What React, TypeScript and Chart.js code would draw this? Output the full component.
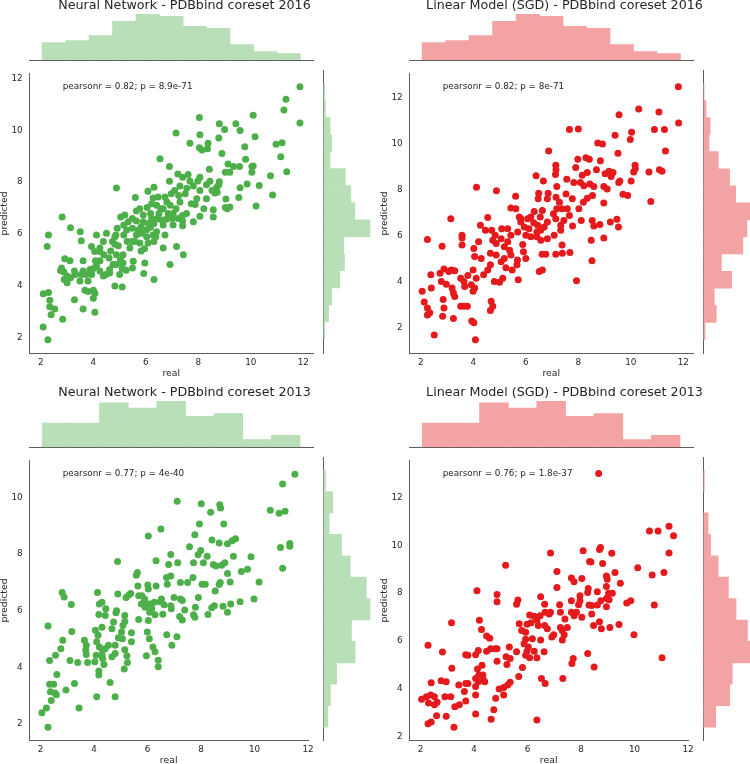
import React, { useEffect, useRef } from 'react';
import { Chart, registerables } from 'chart.js';

Chart.register(...registerables);

// ---------------- data ----------------
const xTicksAll = [2, 4, 6, 8, 10, 12];
const yTicks12 = [2, 4, 6, 8, 10, 12];
const yTicks10 = [2, 4, 6, 8, 10];

// marginal histogram of "real" values (shared by both models of a year)
const real2016Counts = [18, 20, 25, 39, 46, 44, 34, 32, 16, 9, 7];
const real2016BinStart = 2.05;
const real2016BinWidth = 0.8945;
const real2013Counts = [18, 18, 33, 29, 34, 23, 25, 6, 9];
const real2013BinStart = 2.06;
const real2013BinWidth = 1.05;

// marginal histograms of "predicted" values (ascending bins)
const nn2016PredCounts = [2, 7, 11, 21, 27, 26, 59, 40, 35, 28, 9, 11, 9, 3, 2];
const nn2016PredBinStart = 1.94;
const nn2016PredBinWidth = 0.649;
const lin2016PredCounts = [2, 13, 11, 28, 18, 39, 43, 46, 32, 26, 15, 6, 7, 3, 1];
const lin2016PredBinStart = 1.48;
const lin2016PredBinWidth = 0.732;
const nn2013PredCounts = [4, 6, 11, 26, 23, 38, 35, 22, 15, 5, 8, 2];
const nn2013PredBinStart = 1.88;
const nn2013PredBinWidth = 0.747;
const lin2013PredCounts = [10, 21, 23, 37, 35, 26, 20, 12, 6, 4, 0, 1];
const lin2013PredBinStart = 2.4;
const lin2013PredBinWidth = 0.882;

// scatter points [real, predicted]
const nn2016Points: number[][] = [
  [11.87,11.68],[11.34,11.2],[11.26,10.79],[11.87,10.28],[10.09,10.58],[8.04,10.5],[7.15,9.9],[8.06,9.83],[8.8,10.26],[9.0,10.03],
  [9.43,10.26],[9.59,10.0],[10.16,9.75],[8.78,9.71],[7.68,9.5],[8.04,9.33],[8.14,9.24],[8.37,9.5],[8.35,9.29],[8.9,9.11],
  [9.77,9.37],[10.96,9.46],[11.19,9.52],[11.14,8.98],[11.37,8.4],[10.75,8.25],[10.83,7.51],[10.2,7.08],[9.8,8.89],[9.13,8.7],
  [9.34,8.61],[9.57,8.61],[10.04,8.61],[10.04,8.38],[9.2,8.38],[9.03,8.38],[8.42,8.5],[6.54,8.91],[6.9,8.61],[7.61,8.3],
  [8.06,8.19],[7.98,8.05],[8.44,8.04],[8.31,7.9],[8.8,8.02],[8.7,7.81],[8.78,7.9],[8.63,7.58],[8.31,7.36],[7.81,7.85],
  [7.68,8.05],[7.4,8.19],[7.22,8.32],[6.9,8.04],[7.3,7.85],[7.56,7.77],[8.06,7.68],[8.52,7.68],[8.72,7.61],[7.73,7.17],
  [7.88,7.14],[8.21,6.98],[8.57,6.94],[9.1,6.98],[9.2,7.04],[9.54,7.41],[9.59,7.79],[10.09,8.63],[9.86,7.93],[10.32,7.87],
  [9.05,7.35],[9.03,7.02],[8.57,6.66],[8.06,6.69],[7.81,6.47],[7.4,6.72],[7.4,6.5],[7.4,6.32],[7.0,6.6],[7.15,6.98],
  [7.3,7.24],[7.25,7.49],[7.1,7.68],[6.97,7.55],[6.73,7.43],[6.47,7.43],[6.28,7.39],[6.31,7.81],[6.08,7.65],[5.6,7.41],
  [4.88,7.78],[6.57,6.98],[6.5,6.79],[6.18,6.79],[5.77,6.98],[5.64,6.89],[6.05,7.02],[6.8,7.24],[6.93,7.11],[6.66,6.35],
  [6.78,6.57],[6.85,6.79],[6.44,6.6],[6.31,6.41],[6.18,6.26],[6.03,6.16],[5.9,6.47],[5.82,6.28],[5.64,6.5],[5.49,6.6],
  [5.33,6.47],[5.16,6.35],[5.04,6.66],[5.2,6.73],[5.49,6.22],[5.64,5.96],[5.84,6.03],[6.03,5.9],[6.28,5.96],[6.41,6.09],
  [6.73,5.96],[6.31,5.71],[6.09,5.65],[6.66,5.46],[7.17,5.52],[7.43,5.2],[6.92,4.82],[6.38,5.9],[5.95,5.43],[5.82,5.35],
  [5.96,4.88],[5.92,4.48],[6.31,4.25],[5.52,4.95],[5.49,4.69],[5.46,5.71],[5.29,5.71],[5.16,5.96],[4.86,5.96],[4.82,5.61],
  [4.95,5.55],[4.73,5.71],[4.66,5.35],[4.88,5.2],[5.13,5.2],[5.03,5.01],[5.13,4.88],[5.1,4.67],[5.25,4.6],[5.0,4.44],
  [4.88,4.82],[4.75,4.82],[4.62,4.63],[4.62,4.5],[4.5,6.03],[4.38,5.71],[4.25,5.46],[4.4,5.2],[4.6,5.08],[4.25,4.97],
  [4.12,4.79],[4.0,4.67],[4.08,4.97],[3.87,4.63],[3.72,4.44],[3.94,4.44],[3.61,4.57],[4.25,4.57],[4.38,4.38],[4.48,4.44],
  [4.12,5.96],[3.93,5.52],[4.25,5.33],[4.82,4.0],[5.1,3.96],[4.05,5.33],[3.8,4.19],[3.49,4.19],[3.54,4.44],[3.31,4.44],
  [3.28,4.57],[3.13,4.31],[3.0,4.38],[2.89,4.25],[3.11,4.97],[2.91,5.05],[2.79,4.69],[2.75,4.59],[2.88,4.54],[3.0,4.12],
  [3.61,4.97],[3.68,3.83],[3.8,3.78],[4.0,3.83],[4.06,3.72],[4.0,3.52],[3.61,3.11],[4.06,2.98],[3.28,3.46],[2.81,6.66],
  [3.13,6.24],[3.5,6.09],[3.54,5.74],[2.29,5.96],[2.24,5.52],[2.09,3.7],[2.29,3.74],[2.34,3.45],[2.39,2.89],[2.34,3.19],
  [2.53,3.11],[2.09,2.41],[2.27,1.92],[2.83,2.71],[5.9,6.73],[6.22,6.6],[6.6,6.54],[7.04,6.79],[7.04,6.35],[7.23,6.6],
  [7.55,6.79],[6.41,7.11],[6.22,7.17],[6.66,6.98],[5.27,6.16],[5.71,6.16],[6.09,6.41],[5.58,5.71],[4.91,6.22],[4.82,5.9],
  [5.39,5.46],[5.77,5.65],[7.94,7.36],[7.5,7.55]
];

const lin2016Points: number[][] = [
  [11.81,12.47],[11.82,10.9],[10.3,11.5],[9.55,11.25],[11.07,11.37],[10.9,10.61],[11.28,10.61],[11.32,9.68],[7.66,10.61],[8.0,10.64],
  [9.4,10.36],[10.03,10.49],[9.98,10.18],[8.74,10.03],[8.92,9.98],[6.87,9.68],[9.51,9.58],[8.29,9.39],[7.98,9.32],[8.42,9.32],
  [8.84,9.25],[9.32,8.74],[9.17,8.8],[9.02,8.69],[9.25,8.57],[10.16,9.06],[10.17,8.92],[10.11,8.77],[10.69,8.77],[11.09,8.86],
  [11.19,8.8],[10.76,7.48],[9.88,7.74],[9.7,7.8],[9.54,8.31],[10.01,8.38],[9.58,8.38],[8.69,8.86],[8.34,8.74],[8.15,8.63],
  [7.9,8.96],[7.14,9.06],[7.15,8.86],[7.13,8.66],[6.39,8.6],[6.67,8.38],[7.56,8.45],[7.83,8.31],[8.08,8.31],[8.21,8.17],
  [8.44,8.24],[8.59,8.14],[8.97,8.14],[9.1,8.03],[8.97,7.42],[8.54,7.74],[8.34,7.62],[8.19,7.45],[8.02,7.17],[7.77,7.6],
  [7.53,7.81],[7.18,8.14],[6.85,7.84],[6.82,7.6],[6.49,7.84],[6.47,7.6],[7.15,7.67],[7.28,7.45],[7.38,7.17],[7.18,7.17],
  [7.05,6.95],[7.58,7.17],[7.66,6.88],[7.45,6.66],[7.33,6.45],[7.14,6.73],[6.63,7.09],[6.32,7.05],[6.19,6.81],[6.07,6.73],
  [6.55,6.81],[6.82,6.59],[6.7,6.38],[6.45,6.45],[6.3,6.56],[6.12,6.3],[5.94,6.38],[5.81,6.59],[5.75,6.81],[5.62,7.17],
  [5.43,7.2],[5.61,7.71],[4.88,7.95],[4.12,8.1],[6.0,6.02],[6.19,5.95],[6.42,5.95],[6.57,5.8],[6.82,5.87],[7.08,6.02],
  [7.33,6.23],[7.78,6.42],[8.11,6.66],[8.53,6.66],[8.59,6.42],[8.82,6.48],[9.22,6.59],[9.47,6.71],[9.53,6.38],[8.97,5.9],
  [8.49,5.8],[8.52,4.91],[7.93,4.04],[7.68,5.27],[7.39,5.23],[7.14,5.19],[6.76,5.19],[6.62,5.19],[5.91,5.3],[5.88,5.62],
  [7.38,5.59],[6.63,4.51],[6.51,4.44],[5.69,6.16],[5.43,6.02],[5.31,6.3],[5.08,6.3],[4.83,6.02],[4.7,6.23],[5.06,5.87],
  [5.31,5.73],[5.18,5.52],[4.87,5.66],[4.74,5.8],[4.65,5.23],[4.87,5.16],[5.06,4.87],[5.18,5.01],[5.43,5.16],[5.68,4.94],
  [5.66,4.73],[5.48,4.51],[5.24,4.61],[5.12,4.15],[5.0,3.98],[4.55,4.51],[4.39,4.3],[4.11,4.15],[3.99,4.51],[4.3,5.01],
  [4.2,5.73],[4.27,6.45],[4.46,6.23],[4.55,6.79],[4.05,5.09],[4.02,5.44],[3.57,6.02],[3.57,5.59],[3.57,5.9],[3.14,6.73],
  [2.81,5.54],[2.25,5.83],[3.16,4.51],[2.88,4.55],[3.06,4.44],[3.29,4.47],[2.73,4.37],[2.38,4.3],[2.4,3.72],[2.78,4.01],
  [2.97,3.89],[3.19,3.72],[3.24,3.51],[3.29,3.36],[3.52,4.15],[3.64,4.01],[3.79,4.27],[3.67,3.79],[3.92,3.87],[3.99,3.58],
  [4.05,3.72],[3.52,2.93],[3.64,2.93],[3.77,2.93],[3.94,2.29],[4.02,2.22],[4.08,1.48],[3.24,2.4],[2.83,2.5],[2.88,2.86],
  [2.85,3.22],[2.05,3.58],[2.13,3.12],[2.25,2.86],[2.25,2.55],[2.34,2.65],[2.51,1.68],[4.68,3.15],[4.74,2.93],[4.65,2.75],
  [4.8,4.01],[4.65,4.73],[5.81,6.73],[6.57,6.23],[6.42,6.16],[5.71,4.08],[5.38,5.37],[6.0,5.01]
];

const nn2013Points: number[][] = [
  [11.51,10.83],[11.05,10.48],[10.59,9.55],[10.92,9.45],[11.14,9.52],[7.11,9.87],[8.01,9.78],[8.7,9.75],[8.73,9.63],[8.36,9.48],
  [7.94,9.07],[8.85,9.07],[6.5,8.89],[6.03,8.64],[7.77,8.69],[8.41,8.5],[8.68,8.4],[9.16,8.48],[9.29,8.55],[8.99,8.37],
  [7.57,8.26],[7.99,8.13],[7.89,7.98],[8.23,7.93],[6.32,7.77],[4.88,7.74],[6.87,7.99],[6.79,7.64],[7.13,7.7],[7.72,7.7],
  [8.09,7.7],[8.46,7.64],[8.56,7.58],[8.77,7.61],[8.89,7.7],[9.21,7.93],[9.87,7.91],[9.74,7.47],[9.51,7.39],[11.05,7.5],
  [10.97,8.24],[11.32,8.38],[11.32,8.28],[10.17,7.02],[9.98,6.42],[9.46,6.32],[9.11,6.24],[8.99,5.95],[8.82,6.16],[8.5,6.18],
  [8.4,6.11],[8.26,5.87],[8.53,6.7],[8.72,7.0],[8.99,7.32],[9.09,7.02],[8.68,6.93],[8.16,6.94],[8.04,6.94],[7.9,6.47],
  [7.79,6.12],[7.72,5.86],[7.77,5.77],[7.39,6.03],[7.3,5.67],[7.23,6.42],[7.3,6.36],[6.99,6.47],[6.87,6.18],[6.89,6.07],
  [6.62,6.21],[6.52,6.42],[6.47,6.32],[6.25,6.3],[6.74,6.94],[6.71,7.18],[6.87,7.23],[7.23,7.0],[7.5,7.0],[7.7,7.18],
  [6.32,6.88],[6.01,6.91],[6.03,6.77],[5.64,6.88],[5.62,7.35],[5.58,7.26],[5.67,6.53],[5.79,6.53],[5.89,6.42],[5.86,6.3],
  [5.77,6.24],[6.01,6.24],[6.13,6.24],[6.16,6.07],[5.91,6.12],[6.08,5.95],[6.03,5.66],[5.67,5.69],[6.28,5.86],[6.57,5.88],
  [7.2,5.8],[7.1,5.08],[6.72,5.15],[6.91,4.78],[5.2,6.47],[5.3,6.56],[5.37,6.61],[4.89,6.59],[5.15,5.83],[5.15,5.62],
  [5.4,5.22],[5.4,4.9],[5.08,5.48],[5.03,5.25],[4.91,5.05],[4.79,4.78],[4.73,5.6],[4.84,6.0],[4.82,5.93],[4.67,5.36],
  [4.13,6.65],[4.2,6.24],[4.3,6.3],[4.44,6.07],[4.18,5.87],[4.42,5.83],[4.3,5.42],[4.05,5.31],[4.15,5.13],[4.1,4.9],
  [4.2,4.72],[4.32,4.61],[4.42,4.66],[4.08,4.43],[4.03,4.2],[4.32,4.31],[4.37,4.1],[4.18,3.87],[4.18,3.73],[4.54,4.78],
  [4.3,4.45],[4.67,4.37],[4.79,4.49],[5.06,5.01],[5.15,4.62],[5.23,4.41],[5.25,4.17],[5.13,3.94],[4.79,2.96],[4.6,3.46],
  [4.1,2.96],[5.96,4.41],[6.28,4.55],[6.4,4.25],[6.4,4.02],[5.99,5.25],[6.07,5.01],[6.2,4.72],[3.64,4.96],[3.71,4.78],
  [3.69,4.6],[3.71,4.45],[3.76,4.17],[3.39,4.17],[3.27,3.43],[3.44,2.56],[2.95,3.2],[3.17,5.27],[3.1,4.24],[2.83,4.96],
  [2.76,4.66],[2.56,4.43],[2.34,4.24],[2.61,3.75],[2.81,6.65],[2.88,6.49],[3.15,6.22],[2.28,5.46],[2.34,3.4],[2.49,3.4],
  [2.37,3.14],[2.54,3.09],[2.59,3.03],[2.4,2.83],[2.22,2.56],[2.05,2.39],[2.28,1.88]
];

const lin2013Points: number[][] = [
  [8.66,12.99],[10.56,10.59],[10.88,10.59],[11.29,10.79],[11.46,10.4],[11.29,9.68],[10.12,9.06],[10.66,8.76],[11.1,8.86],[10.74,7.5],
  [11.03,5.3],[9.98,6.26],[9.42,6.69],[9.08,6.57],[8.76,6.51],[8.69,6.81],[8.47,6.65],[8.49,4.92],[8.25,5.48],[7.71,5.27],
  [7.66,5.06],[7.32,4.44],[6.66,4.23],[6.52,4.44],[6.35,2.7],[5.18,9.16],[4.11,8.1],[4.86,7.94],[4.86,7.64],[5.64,7.71],
  [5.59,7.54],[6.86,9.68],[7.1,8.9],[7.1,8.23],[6.49,7.85],[6.81,7.13],[6.86,7.2],[6.66,7.2],[6.25,7.03],[6.13,6.76],
  [5.98,6.7],[5.69,6.72],[5.78,6.44],[5.93,6.37],[6.35,6.88],[6.4,6.65],[6.64,6.65],[6.74,6.51],[7.2,7.52],[7.23,7.2],
  [7.4,6.92],[7.23,6.57],[7.3,6.44],[7.37,6.26],[7.3,6.04],[7.49,6.57],[6.98,6.26],[6.91,6.17],[6.49,6.04],[6.18,6.1],
  [5.93,6.07],[5.87,5.89],[6.03,5.75],[6.25,5.57],[5.98,5.57],[5.93,5.41],[6.08,5.3],[6.35,5.3],[6.62,5.55],[5.81,4.9],
  [5.59,5.55],[5.32,5.75],[5.2,5.34],[5.35,5.27],[5.23,5.02],[5.67,4.52],[5.35,4.28],[5.26,4.17],[5.11,4.06],[4.94,4.0],
  [5.11,3.75],[4.81,3.61],[4.74,3.13],[4.64,2.74],[4.86,5.16],[4.86,5.68],[4.79,5.68],[4.62,5.68],[4.47,5.57],[4.59,6.12],
  [4.47,6.21],[4.28,6.48],[4.2,6.87],[4.16,5.61],[4.06,5.43],[4.3,4.99],[4.13,4.83],[4.33,4.58],[4.35,4.37],[4.18,4.58],
  [4.4,4.3],[4.06,4.44],[4.16,4.3],[4.06,4.1],[4.06,3.75],[4.06,2.95],[3.77,5.41],[3.69,5.43],[3.77,4.23],[3.69,4.23],
  [3.64,3.89],[3.69,3.5],[3.43,4.17],[3.45,3.34],[3.28,3.26],[3.25,2.4],[3.13,3.68],[2.96,4.3],[2.91,3.68],[2.96,2.86],
  [3.17,4.86],[3.16,6.76],[2.82,5.54],[2.77,4.34],[2.4,4.26],[2.28,5.82],[2.04,3.57],[2.22,3.68],[2.38,3.75],[2.52,3.68],
  [2.62,3.45],[2.52,3.34],[2.3,3.41],[2.6,2.88],[2.4,2.62],[2.28,2.55],[7.64,8.63],[7.74,8.47],[8.03,8.61],[8.27,8.19],
  [8.25,8.03],[7.96,7.89],[7.96,7.68],[7.91,7.52],[8.3,7.5],[8.4,7.48],[8.61,7.5],[8.74,7.68],[8.95,7.78],[8.61,8.06],
  [8.95,8.28],[8.95,8.72],[8.98,8.58],[9.27,8.86],[9.47,8.41],[9.03,8.0],[9.17,8.0],[8.95,7.43],[9.05,7.72],[9.71,7.59],
  [9.86,7.68],[8.81,9.24],[9.15,9.66],[8.69,9.82],[8.73,9.9],[8.08,9.77],[8.32,9.32],[8.37,9.3],[7.74,7.06],[7.64,7.2],
  [7.83,7.2],[8.03,6.99],[8.4,7.13],[6.64,7.54],[6.47,7.06],[6.08,7.09],[7.64,7.68]
];

// ---------------- style ----------------
const FONT = '"DejaVu Sans", "Liberation Sans", sans-serif';
const TEXT = '#262626';
const SPINE = '#5c5c5c';
const GREEN = '#4daf4a';
const GREEN_HIST = '#b8dfb7';
const RED = '#e41a1c';
const RED_HIST = '#f4a3a4';

type PanelSpec = {
  title: string;
  note: string;
  points: number[][];
  color: string;
  histColor: string;
  xMin: number; xMax: number; yMin: number; yMax: number;
  xTicks: number[]; yTicks: number[];
  xCounts: number[]; xBinStart: number; xBinWidth: number;
  yCounts: number[]; yBinStart: number; yBinWidth: number;
  left: number; top: number;
};

const panels: PanelSpec[] = [
  {
    title: 'Neural Network - PDBbind coreset 2016', note: 'pearsonr = 0.82; p = 8.9e-71',
    points: nn2016Points, color: GREEN, histColor: GREEN_HIST,
    xMin: 1.56, xMax: 12.38, yMin: 1.41, yMax: 12.18, xTicks: xTicksAll, yTicks: yTicks12,
    xCounts: real2016Counts, xBinStart: real2016BinStart, xBinWidth: real2016BinWidth,
    yCounts: nn2016PredCounts, yBinStart: nn2016PredBinStart, yBinWidth: nn2016PredBinWidth,
    left: 0, top: 0,
  },
  {
    title: 'Linear Model (SGD) - PDBbind coreset 2016', note: 'pearsonr = 0.82; p = 8e-71',
    points: lin2016Points, color: RED, histColor: RED_HIST,
    xMin: 1.56, xMax: 12.38, yMin: 0.9, yMax: 13.03, xTicks: xTicksAll, yTicks: yTicks12,
    xCounts: real2016Counts, xBinStart: real2016BinStart, xBinWidth: real2016BinWidth,
    yCounts: lin2016PredCounts, yBinStart: lin2016PredBinStart, yBinWidth: lin2016PredBinWidth,
    left: 380, top: 0,
  },
  {
    title: 'Neural Network - PDBbind coreset 2013', note: 'pearsonr = 0.77; p = 4e-40',
    points: nn2013Points, color: GREEN, histColor: GREEN_HIST,
    xMin: 1.58, xMax: 12.0, yMin: 1.43, yMax: 11.3, xTicks: xTicksAll, yTicks: yTicks10,
    xCounts: real2013Counts, xBinStart: real2013BinStart, xBinWidth: real2013BinWidth,
    yCounts: nn2013PredCounts, yBinStart: nn2013PredBinStart, yBinWidth: nn2013PredBinWidth,
    left: 0, top: 387,
  },
  {
    title: 'Linear Model (SGD) - PDBbind coreset 2013', note: 'pearsonr = 0.76; p = 1.8e-37',
    points: lin2013Points, color: RED, histColor: RED_HIST,
    xMin: 1.58, xMax: 12.0, yMin: 1.87, yMax: 13.52, xTicks: xTicksAll, yTicks: yTicks12,
    xCounts: real2013Counts, xBinStart: real2013BinStart, xBinWidth: real2013BinWidth,
    yCounts: lin2013PredCounts, yBinStart: lin2013PredBinStart, yBinWidth: lin2013PredBinWidth,
    left: 380, top: 387,
  },
];

// ---------------- layout (local panel px) ----------------
const AX_L = 29.3, AX_R = 313.3, AX_T = 70, AX_B = 353;
const TOP_H_TOP = 11.7, TOP_H_BOT = 60.3;
const SIDE_L = 323.3, SIDE_R = 372.7;
const MAIN_TOP = 62, MAIN_W = 318, MAIN_H = 318;
const TOPC_W = 375, TOPC_H = 62;
const SIDEC_L = 318, SIDEC_W = 57;
const TITLE_X = 184.5, TITLE_Y = 5.5;

function binCenters(start: number, width: number, n: number) {
  const out: number[] = [];
  for (let i = 0; i < n; i++) out.push(start + width * (i + 0.5));
  return out;
}

function JointPanel({ spec }: { spec: PanelSpec }) {
  const topRef = useRef<HTMLCanvasElement>(null);
  const mainRef = useRef<HTMLCanvasElement>(null);
  const sideRef = useRef<HTMLCanvasElement>(null);

  useEffect(() => {
    const charts: Chart[] = [];
    const tickFont = { family: FONT, size: 8.8 };
    const labelFont = { family: FONT, size: 9.3, lineHeight: 1 };

    // scatter
    charts.push(new Chart(mainRef.current!, {
      type: 'scatter',
      data: {
        datasets: [{
          data: spec.points.map(([x, y]) => ({ x, y })),
          backgroundColor: spec.color,
          borderWidth: 0,
          pointRadius: 3.5,
          pointHoverRadius: 3.5,
        }],
      },
      options: {
        animation: false,
        responsive: false,
        events: [],
        layout: { padding: { left: 0, top: AX_T - MAIN_TOP, right: MAIN_W - AX_R, bottom: 0 } },
        plugins: { legend: { display: false }, tooltip: { enabled: false } },
        scales: {
          x: {
            type: 'linear', position: 'bottom', min: spec.xMin, max: spec.xMax,
            grid: { display: false, drawTicks: false, tickLength: 0 },
            border: { display: true, color: SPINE, width: 1 },
            ticks: { font: tickFont, color: TEXT, padding: 4.4, maxRotation: 0, autoSkip: false },
            title: { display: true, text: 'real', font: labelFont, color: TEXT, padding: { top: 0, bottom: 2 } },
            afterBuildTicks: (s: any) => { s.ticks = spec.xTicks.map((v) => ({ value: v })); },
            afterFit: (s: any) => { s.height = MAIN_TOP + MAIN_H - AX_B; },
          },
          y: {
            type: 'linear', position: 'left', min: spec.yMin, max: spec.yMax,
            grid: { display: false, drawTicks: false, tickLength: 0 },
            border: { display: true, color: SPINE, width: 1 },
            ticks: { font: tickFont, color: TEXT, padding: 6.6, autoSkip: false },
            title: { display: true, text: 'predicted', font: labelFont, color: TEXT, padding: { top: 0, bottom: 0 } },
            afterBuildTicks: (s: any) => { s.ticks = spec.yTicks.map((v) => ({ value: v })); },
            afterFit: (s: any) => { s.width = AX_L; },
          },
        },
      } as any,
      plugins: [{
        id: 'note',
        afterDraw(chart: any) {
          const { ctx, chartArea } = chart;
          ctx.save();
          ctx.font = `8.8px ${FONT}`;
          ctx.fillStyle = TEXT;
          ctx.textAlign = 'left';
          ctx.textBaseline = 'middle';
          ctx.fillText(spec.note, chartArea.left + 33.4, chartArea.top + 13.3);
          ctx.restore();
        },
      }],
    }));

    // top marginal histogram (real)
    const xc = binCenters(spec.xBinStart, spec.xBinWidth, spec.xCounts.length);
    charts.push(new Chart(topRef.current!, {
      type: 'bar',
      data: {
        datasets: [{
          data: xc.map((c, i) => ({ x: c, y: spec.xCounts[i] })),
          backgroundColor: spec.histColor,
          borderWidth: 0,
          barPercentage: 1.03,
          categoryPercentage: 1,
        }],
      },
      options: {
        animation: false,
        responsive: false,
        events: [],
        layout: { padding: { left: AX_L, right: TOPC_W - AX_R, top: TOP_H_TOP, bottom: TOPC_H - TOP_H_BOT } },
        plugins: { legend: { display: false }, tooltip: { enabled: false } },
        scales: {
          x: {
            type: 'linear', position: 'bottom', min: spec.xMin, max: spec.xMax, offset: false,
            grid: { display: false, drawTicks: false, tickLength: 0 },
            border: { display: true, color: SPINE, width: 1 },
            ticks: { display: false },
            afterBuildTicks: (s: any) => { s.ticks = spec.xTicks.map((v) => ({ value: v })); },
            afterFit: (s: any) => { s.height = 0; },
          },
          y: { type: 'linear', display: false, min: 0, max: Math.max(...spec.xCounts) * 1.05 },
        },
      } as any,
      plugins: [{
        id: 'ptitle',
        afterDraw(chart: any) {
          const { ctx } = chart;
          ctx.save();
          ctx.font = `12.7px ${FONT}`;
          ctx.fillStyle = TEXT;
          ctx.textAlign = 'center';
          ctx.textBaseline = 'middle';
          ctx.fillText(spec.title, TITLE_X, TITLE_Y);
          ctx.restore();
        },
      }],
    }));

    // right marginal histogram (predicted)
    const yc = binCenters(spec.yBinStart, spec.yBinWidth, spec.yCounts.length);
    charts.push(new Chart(sideRef.current!, {
      type: 'bar',
      data: {
        datasets: [{
          data: yc.map((c, i) => ({ x: spec.yCounts[i], y: c })),
          backgroundColor: spec.histColor,
          borderWidth: 0,
          barPercentage: 1.03,
          categoryPercentage: 1,
        }],
      },
      options: {
        indexAxis: 'y',
        animation: false,
        responsive: false,
        events: [],
        layout: { padding: { left: SIDE_L - SIDEC_L, right: SIDEC_L + SIDEC_W - SIDE_R, top: AX_T - MAIN_TOP, bottom: MAIN_TOP + MAIN_H - AX_B } },
        plugins: { legend: { display: false }, tooltip: { enabled: false } },
        scales: {
          y: {
            type: 'linear', position: 'left', min: spec.yMin, max: spec.yMax, offset: false,
            grid: { display: false, drawTicks: false, tickLength: 0 },
            border: { display: true, color: SPINE, width: 1 },
            ticks: { display: false },
            afterBuildTicks: (s: any) => { s.ticks = spec.yTicks.map((v) => ({ value: v })); },
            afterFit: (s: any) => { s.width = 0; },
          },
          x: { type: 'linear', display: false, min: 0, max: Math.max(...spec.yCounts) * 1.05 },
        },
      } as any,
    }));

    return () => { charts.forEach((c) => c.destroy()); };
  }, [spec]);

  return (
    <div style={{ position: 'absolute', left: spec.left, top: spec.top, width: 375, height: 387 }}>
      <canvas ref={topRef} width={TOPC_W} height={TOPC_H}
        style={{ position: 'absolute', left: 0, top: 0, width: TOPC_W, height: TOPC_H }} />
      <canvas ref={mainRef} width={MAIN_W} height={MAIN_H}
        style={{ position: 'absolute', left: 0, top: MAIN_TOP, width: MAIN_W, height: MAIN_H }} />
      <canvas ref={sideRef} width={SIDEC_W} height={MAIN_H}
        style={{ position: 'absolute', left: SIDEC_L, top: MAIN_TOP, width: SIDEC_W, height: MAIN_H }} />
    </div>
  );
}

export default function App() {
  return (
    <div style={{ position: 'fixed', left: 0, top: 0, width: 750, height: 764, overflow: 'hidden', background: '#ffffff' }}>
      {panels.map((p) => (
        <JointPanel key={p.title} spec={p} />
      ))}
    </div>
  );
}
